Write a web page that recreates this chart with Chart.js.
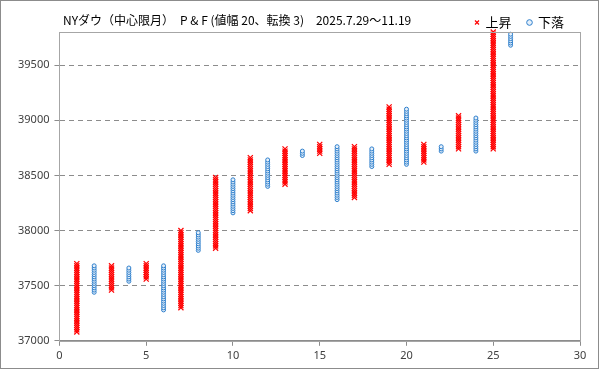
<!DOCTYPE html>
<html>
<head>
<meta charset="utf-8">
<script src="https://cdn.jsdelivr.net/npm/chart.js@4/dist/chart.umd.min.js"></script>
<style>
html,body{margin:0;padding:0;background:#fff;}
#wrap{position:relative;width:599px;height:369px;}
canvas{display:block;}
</style>
</head>
<body>
<div id="wrap"><canvas id="c" width="599" height="369"></canvas></div>
<script>
// ---- data ----
const chartTitle = 'NYダウ（中心限月）　P & F (値幅 20、転換 3)　2025.7.29〜11.19';
const boxSize = 20;                       // 値幅 20
const colNumber = [1,2,3,4,5,6,7,8,9,10,11,12,13,14,15,16,17,18,19,20,21,22,23,24,25,26];
const colKind   = ['X','O','X','O','X','O','X','O','X','O','X','O','X','O','X','O','X','O','X','O','X','O','X','O','X','O'];
const colLow    = [37080,37440,37460,37540,37560,37280,37300,37820,37840,38160,38180,38400,38420,38680,38700,38280,38300,38580,38600,38600,38620,38720,38740,38720,38740,39680];
const colHigh   = [37700,37680,37680,37660,37700,37680,38000,37980,38480,38460,38660,38640,38740,38720,38780,38760,38760,38740,39120,39100,38780,38760,39040,39020,39800,39780];
const xTicks = [0,5,10,15,20,25,30];
const yTicks = [37000,37500,38000,38500,39000,39500];
const seriesNames = ['上昇','下落'];

// boxes of each column (one box per 値幅 step between the column's low and high)
function boxes(kind){
  const pts = [];
  colNumber.forEach((c,i)=>{
    if(colKind[i]!==kind) return;
    for(let v=colLow[i]; v<=colHigh[i]; v+=boxSize) pts.push({x:c,y:v});
  });
  return pts;
}

const LEGEND_SHIFT = 7;
const frame = {
  id:'frame',
  afterLayout(chart){
    if(chart.legend){ chart.legend.top += LEGEND_SHIFT; chart.legend.bottom += LEGEND_SHIFT; }
  },
  afterDraw(chart){
    const {ctx, chartArea:a} = chart;
    ctx.save();
    ctx.strokeStyle='#a6a6a6'; ctx.lineWidth=1;
    ctx.strokeRect(Math.round(a.left)+0.5, Math.round(a.top)+0.5, Math.round(a.right-a.left), Math.round(a.bottom-a.top));
    ctx.strokeStyle='#8c8c8c';
    ctx.strokeRect(0.5,0.5,chart.width-1,chart.height-1);
    ctx.fillStyle='#000';
    ctx.font='12px "Noto Sans CJK JP"';
    ctx.textBaseline='middle';
    ctx.fillText(chartTitle, 63, 20);
    ctx.restore();
  }
};

new Chart(document.getElementById('c'), {
  type:'scatter',
  data:{
    datasets:[
      {label:seriesNames[0], data:boxes('X'), pointStyle:'crossRot', pointRadius:3.6, pointHoverRadius:3.6,
       borderColor:'#ff0000', backgroundColor:'#ff0000', borderWidth:1.2, clip:false},
      {label:seriesNames[1], data:boxes('O'), pointStyle:'circle', pointRadius:2, pointHoverRadius:2,
       borderColor:'#2e7fcc', backgroundColor:'#e6f0fa', borderWidth:1, clip:false}
    ]
  },
  options:{
    responsive:false, animation:false, devicePixelRatio:1,
    layout:{padding:{left:13,right:19,top:-LEGEND_SHIFT,bottom:4}},
    plugins:{
      legend:{display:true, position:'top', align:'end',
        labels:{usePointStyle:true, boxHeight:4, boxWidth:4, padding:16, color:'#000',
          font:{family:'"Noto Sans CJK JP"', size:13}}},
      title:{display:false},
      tooltip:{enabled:false}
    },
    scales:{
      x:{type:'linear', min:0, max:30,
        afterBuildTicks(s){ s.ticks = xTicks.map(v=>({value:v})); },
        grid:{display:true, drawOnChartArea:false, drawTicks:true, tickLength:5, color:'#8c8c8c'},
        border:{display:true, color:'#8c8c8c'},
        ticks:{color:'#404040', padding:3, font:{family:'"Noto Sans"', size:11}, callback:v=>String(v)}
      },
      y:{type:'linear', min:37000, max:39800,
        afterBuildTicks(s){ s.ticks = yTicks.map(v=>({value:v})); },
        grid:{display:true, drawTicks:true, tickLength:5, color:'#8c8c8c', tickColor:'#8c8c8c'},
        border:{display:true, color:'#8c8c8c', dash:[5,4]},
        ticks:{color:'#404040', padding:5, font:{family:'"Noto Sans"', size:11}, callback:v=>String(v)}
      }
    }
  },
  plugins:[frame]
});
</script>
</body>
</html>
